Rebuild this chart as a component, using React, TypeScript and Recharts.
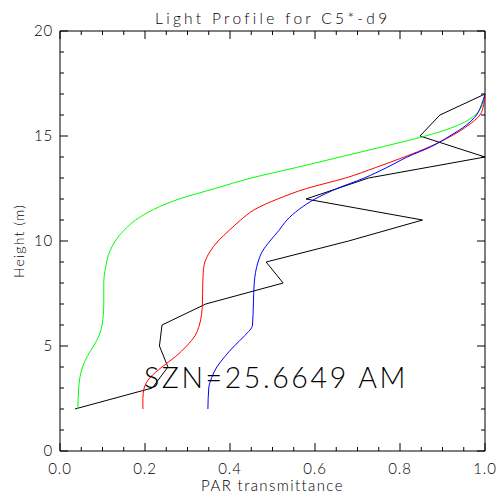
import React from 'react';
import {
  ComposedChart,
  Line,
  XAxis,
  YAxis,
  ReferenceLine,
  ReferenceArea,
} from 'recharts';

// heights (m) and PAR transmittance
const greenHeight = [2, 3, 4, 4.5, 5, 5.5, 6, 7, 8, 8.7, 9.5, 10, 10.5, 11, 11.5, 12, 12.5, 13, 13.5, 14, 14.5, 15, 15.5, 16, 16.5, 17];
const greenPar = [0.042, 0.044, 0.053, 0.064, 0.079, 0.092, 0.099, 0.103, 0.103, 0.107, 0.117, 0.13, 0.15, 0.178, 0.22, 0.28, 0.365, 0.45, 0.556, 0.659, 0.761, 0.86, 0.935, 0.977, 0.994, 1.0];

const redHeight = [2, 2.5, 3, 3.5, 4, 4.5, 5, 5.5, 6, 6.5, 7, 8, 8.5, 9, 9.5, 10, 10.5, 11, 11.5, 12, 12.5, 13, 13.5, 14, 14.5, 15, 15.5, 16, 16.5, 17];
const redPar = [0.195, 0.195, 0.198, 0.212, 0.24, 0.272, 0.298, 0.318, 0.328, 0.333, 0.335, 0.336, 0.337, 0.341, 0.353, 0.372, 0.398, 0.425, 0.458, 0.512, 0.58, 0.672, 0.743, 0.81, 0.871, 0.921, 0.96, 0.988, 0.997, 1.0];

const blueHeight = [2, 3, 3.5, 4, 4.5, 5, 5.5, 6, 7, 8, 8.5, 9, 9.5, 10, 10.5, 11, 11.5, 12, 12.5, 13, 13.5, 14, 14.5, 15, 15.5, 16, 16.5, 17];
const bluePar = [0.348, 0.35, 0.357, 0.369, 0.388, 0.41, 0.435, 0.453, 0.455, 0.457, 0.46, 0.466, 0.476, 0.494, 0.515, 0.534, 0.562, 0.6, 0.652, 0.716, 0.769, 0.817, 0.874, 0.917, 0.955, 0.98, 0.992, 1.0];

const blackHeight = [2, 3, 4, 5, 6, 7, 8, 9, 10, 11, 12, 13, 14, 15, 16, 17];
const blackPar = [0.035, 0.217, 0.254, 0.234, 0.24, 0.343, 0.525, 0.485, 0.679, 0.853, 0.579, 0.726, 1.0, 0.847, 0.894, 1.0];

const xMajor = [0, 0.2, 0.4, 0.6, 0.8, 1.0];
const xMinor = [0.05, 0.1, 0.15, 0.25, 0.3, 0.35, 0.45, 0.5, 0.55, 0.65, 0.7, 0.75, 0.85, 0.9, 0.95];
const yMajor = [0, 5, 10, 15, 20];
const yMinor = [1, 2, 3, 4, 6, 7, 8, 9, 11, 12, 13, 14, 16, 17, 18, 19];

const toPoints = (h: number[], p: number[]) => h.map((v, i) => ({ h: v, par: p[i] }));

// plot box is 425 x 420 px for x 0..1 and h 0..20
const PX_X = 1 / 425;
const PX_Y = 20 / 420;
const MAJOR = 8;
const MINOR = 4;

const font = 'Lato, Liberation Sans, Arial, sans-serif';

function tickMarks() {
  const out: React.ReactNode[] = [];
  const xt = (v: number, len: number, key: string) => {
    out.push(<ReferenceLine key={key + 'b'} segment={[{ x: v, y: 0 }, { x: v, y: len * PX_Y }]} stroke="#000" />);
    out.push(<ReferenceLine key={key + 't'} segment={[{ x: v, y: 20 }, { x: v, y: 20 - len * PX_Y }]} stroke="#000" />);
  };
  const yt = (v: number, len: number, key: string) => {
    out.push(<ReferenceLine key={key + 'l'} segment={[{ x: 0, y: v }, { x: len * PX_X, y: v }]} stroke="#000" />);
    out.push(<ReferenceLine key={key + 'r'} segment={[{ x: 1, y: v }, { x: 1 - len * PX_X, y: v }]} stroke="#000" />);
  };
  xMajor.forEach((v) => xt(v, MAJOR, 'xM' + v));
  xMinor.forEach((v) => xt(v, MINOR, 'xm' + v));
  yMajor.forEach((v) => yt(v, MAJOR, 'yM' + v));
  yMinor.forEach((v) => yt(v, MINOR, 'ym' + v));
  return out;
}

const tickStyle = { fontSize: 15, fill: '#000', fontFamily: font, fontWeight: 300, letterSpacing: 0.8 };

export default function App() {
  return (
    <div style={{ position: 'absolute', left: 0, top: 0, width: 496, height: 497, background: '#fff', fontFamily: font, fontWeight: 300 }}>
      <div
        style={{
          position: 'absolute', left: 155, top: 10.5, fontSize: 15.5, lineHeight: '15.5px',
          letterSpacing: 3.3, whiteSpace: 'nowrap', color: '#000',
        }}
      >
        Light Profile for C5*-d9
      </div>
      <ComposedChart
        width={496}
        height={497}
        layout="vertical"
        margin={{ top: 31, right: 11, bottom: 0, left: 0 }}
      >
        <XAxis
          type="number"
          dataKey="par"
          domain={[0, 1]}
          ticks={xMajor}
          tickFormatter={(v: number) => v.toFixed(1)}
          axisLine={false}
          tickLine={false}
          tickSize={6}
          tickMargin={6}
          height={46}
          tick={tickStyle}
          label={{ value: 'PAR transmittance', position: 'insideBottom', offset: 6, fontSize: 15, fill: '#000', fontFamily: font, fontWeight: 300, letterSpacing: 1.4 }}
        />
        <YAxis
          type="number"
          dataKey="h"
          domain={[0, 20]}
          ticks={yMajor}
          reversed
          axisLine={false}
          tickLine={false}
          tickSize={6}
          tickMargin={1}
          width={60}
          tick={tickStyle}
          label={{ value: 'Height (m)', angle: -90, position: 'center', dx: -11, fontSize: 14, fill: '#000', fontFamily: font, fontWeight: 300, letterSpacing: 1.2 }}
        />
        <ReferenceArea x1={0} x2={1} y1={0} y2={20} fill="none" stroke="#000" strokeWidth={1} />
        {tickMarks()}
        <Line data={toPoints(blackHeight, blackPar)} dataKey="par" type="linear" stroke="#000000" strokeWidth={1} dot={false} isAnimationActive={false} />
        <Line data={toPoints(greenHeight, greenPar)} dataKey="par" type="monotone" stroke="#00ff00" strokeWidth={1} dot={false} isAnimationActive={false} />
        <Line data={toPoints(redHeight, redPar)} dataKey="par" type="monotone" stroke="#ff0000" strokeWidth={1} dot={false} isAnimationActive={false} />
        <Line data={toPoints(blueHeight, bluePar)} dataKey="par" type="monotone" stroke="#0000ff" strokeWidth={1} dot={false} isAnimationActive={false} />
      </ComposedChart>
      <div
        style={{
          position: 'absolute', left: 144, top: 363, fontSize: 28.5, lineHeight: '28.5px',
          letterSpacing: 2.6, whiteSpace: 'nowrap', color: '#000',
        }}
      >
        SZN=25.6649 AM
      </div>
    </div>
  );
}
